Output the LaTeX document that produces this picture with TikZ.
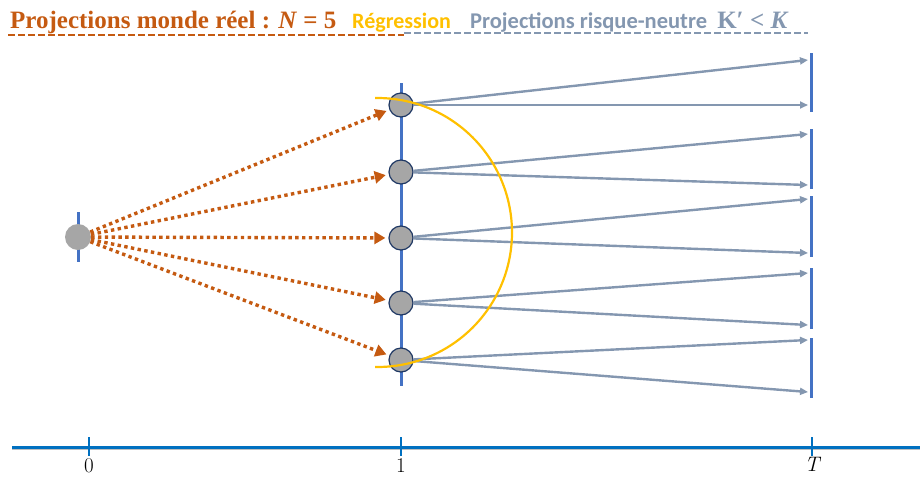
\documentclass[tikz,border=0pt]{standalone}
\usepackage{fontspec}
\setmainfont{Liberation Serif}
\newfontfamily\calibri{Carlito}
\newfontfamily\lmr{Latin Modern Roman}
\usetikzlibrary{arrows.meta}
\definecolor{ora}{HTML}{C55A11}
\definecolor{yel}{HTML}{FFC000}
\definecolor{gbl}{HTML}{8497B0}
\definecolor{blu}{HTML}{4472C4}
\definecolor{axb}{HTML}{0070C0}
\definecolor{ngr}{HTML}{A6A6A6}
\definecolor{nbd}{HTML}{1F3864}
\begin{document}
\begin{tikzpicture}[x=1pt,y=-1pt,
  statenode/.style={circle,fill=ngr,draw=nbd,line width=1.2pt,minimum size=24pt,inner sep=0pt},
  rwarrow/.style={ora,line width=3.4pt,dash pattern=on 3.4pt off 3.4pt,-{Triangle[length=11pt,width=12pt]},shorten >=3pt},
  rnarrow/.style={gbl,line width=2.4pt,-{Triangle[length=8pt,width=7pt]}},
  bluebar/.style={blu,line width=3pt},
  axtick/.style={axb,line width=2.5pt},
  axlabel/.style={font=\lmr\fontsize{21}{24}\selectfont,inner sep=0pt,anchor=base}]
\useasboundingbox (0,0) rectangle (920,477);
% titles
\node[anchor=base west,inner sep=0pt,text=ora,font=\fontsize{25}{28}\selectfont\bfseries] (t1) at (10,28) {Projections monde réel : \textit{N} = 5};
\node[anchor=base west,inner sep=0pt,text=yel,font=\calibri\fontsize{22}{26}\selectfont\bfseries] (t2) at (352,28) {Régression};
\node[anchor=base west,inner sep=0pt,text=gbl,font=\calibri\fontsize{22.5}{26}\selectfont\bfseries] (t3) at (470,28) {Projections risque-neutre\ \ {\rmfamily\fontsize{25}{28}\selectfont K′ < \textit{K}}};
\coordinate (u0) at (8,35);
\coordinate (u1) at (404,35);
\coordinate (u2) at (404,33);
\coordinate (u3) at (808,33);
\draw[ora,line width=2pt,dash pattern=on 7pt off 3pt] (u0) -- (u1);
\draw[gbl,line width=2pt,dash pattern=on 7pt off 3pt] (u2) -- (u3);
% vertical lines
\coordinate (v0a) at (78,212); \coordinate (v0b) at (78,262);
\draw[bluebar] (v0a) -- (v0b);
\coordinate (v1a) at (401,83); \coordinate (v1b) at (401,386);
\draw[bluebar] (v1a) -- (v1b);
% bars at T
\foreach \a/\b [count=\i] in {53/112,129/189,196/257,268/329,338/398}{
  \coordinate (ba\i) at (811,\a); \coordinate (bb\i) at (811,\b);
  \draw[bluebar] (ba\i) -- (bb\i);
}
% origin
\node[circle,fill=ngr,minimum size=26pt,inner sep=0pt] (o) at (78,237) {};
% nodes
\foreach \y [count=\i] in {105,172,238,303,360}{
  \node[statenode] (n\i) at (401,\y) {};
}
% endpoints
\foreach \ya/\yb [count=\i] in {60/105,134/185,199/253,273/325,340/392}{
  \coordinate (ea\i) at (808,\ya);
  \coordinate (eb\i) at (808,\yb);
}
\foreach \i in {1,...,5}{
  \draw[rnarrow] (n\i) -- (ea\i);
  \draw[rnarrow] (n\i) -- (eb\i);
  \draw[rwarrow] (o) -- (n\i);
}
% regression arc
\draw[yel,line width=2.2pt] plot[domain=-91:91,samples=80,smooth] ({377.5+134.5*cos(\x)},{232.5+134.5*sin(\x)});
% time axis
\coordinate (ax0) at (12,447); \coordinate (ax1) at (920,447);
\draw[black!25,line width=3pt] ([yshift=-1pt]ax0) -- ([yshift=-1pt]ax1);
\draw[axb,line width=3pt] (ax0) -- (ax1);
\foreach \x/\n in {89/z,401/o,812/t}{
  \coordinate (tk\n a) at (\x,437); \coordinate (tk\n b) at (\x,456);
  \draw[axtick] (tk\n a) -- (tk\n b);
}
\node[axlabel] (l0) at (89,472) {0};
\node[axlabel] (l1) at (401,472) {1};
\node[axlabel] (lT) at (812,471) {\itshape T};
\end{tikzpicture}
\end{document}
